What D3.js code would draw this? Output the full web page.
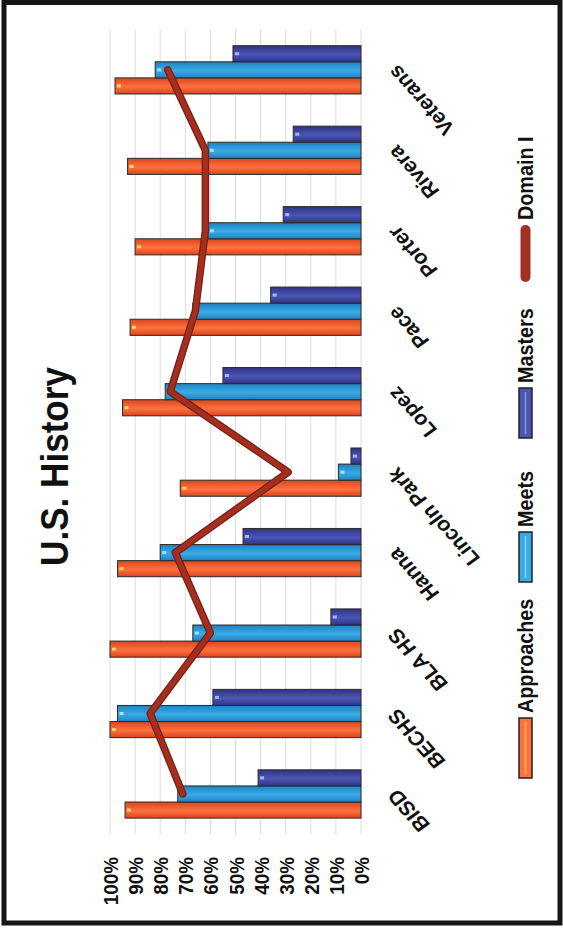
<!DOCTYPE html>
<html>
<head>
<meta charset="utf-8">
<script src="https://cdn.jsdelivr.net/npm/d3@7"></script>
<style>
  html, body { margin: 0; padding: 0; background: #ffffff; }
  svg { display: block; }
</style>
</head>
<body>
<div id="chart"></div>
<script>
// ---------------- data ----------------
const categories = ["BISD", "BECHS", "BLA HS", "Hanna", "Lincoln Park", "Lopez", "Pace", "Porter", "Rivera", "Veterans"];
const approaches = [94, 100, 100, 97, 72, 95, 92, 90, 93, 98];
const meets      = [73, 97, 67, 80, 9, 78, 67, 61, 61, 82];
const masters    = [41, 59, 12, 47, 4, 55, 36, 31, 27, 51];
const domainI    = [71, 84, 60, 74, 29, 76, 66, 62, 62, 77];
const seriesNames = ["Approaches", "Meets", "Masters"];
const lineName = "Domain I";
const tickValues = [0, 10, 20, 30, 40, 50, 60, 70, 80, 90, 100];
const tickLabels = ["0%", "10%", "20%", "30%", "40%", "50%", "60%", "70%", "80%", "90%", "100%"];
const chartTitle = "U.S. History";

// ---------------- layout ----------------
const SW = 563, SH = 932;          // screen size
const OW = 932, OH = 563;          // unrotated chart frame
const FONT = "'Liberation Sans', Arial, sans-serif";
const K = 0.9;                     // horizontal text compression of the scan

const svg = d3.select("#chart").append("svg")
  .attr("width", SW).attr("height", SH);

svg.append("rect").attr("width", SW).attr("height", SH).attr("fill", "#fff");

// chart drawn upright in OW x OH, then rotated -90deg onto the page
const g = svg.append("g").attr("transform", `translate(0,${SH}) rotate(-90)`);

const x = d3.scaleBand().domain(categories).range([97.8, 902.4]).padding(0);
const y = d3.scaleLinear().domain([0, 100]).range([361, 110]);
const bw = x.bandwidth() / 5;

const colors = {
  Approaches: { edge: "#d9471c", mid: "#ff7040", dot: "#ffd862" },
  Meets:      { edge: "#1f83c0", mid: "#3aaae6", dot: "#9fe6ff" },
  Masters:    { edge: "#2f3384", mid: "#4b56b3", dot: "#aab6ff" }
};

const defs = svg.append("defs");
seriesNames.forEach(name => {
  const gr = defs.append("linearGradient").attr("id", "grad-" + name)
    .attr("x1", "0").attr("x2", "1").attr("y1", "0").attr("y2", "0");
  gr.append("stop").attr("offset", "0%").attr("stop-color", colors[name].edge);
  gr.append("stop").attr("offset", "45%").attr("stop-color", colors[name].mid);
  gr.append("stop").attr("offset", "100%").attr("stop-color", colors[name].edge);
});

// gridlines
g.append("g").selectAll("line").data(tickValues).join("line")
  .attr("x1", x.range()[0]).attr("x2", x.range()[1])
  .attr("y1", d => y(d)).attr("y2", d => y(d))
  .attr("stroke", "#dcdcdc").attr("stroke-width", 1);

// value axis
const yAxis = d3.axisLeft(y).tickValues(tickValues)
  .tickFormat((d, i) => tickLabels[i]).tickSize(0).tickPadding(22.8);
const ya = g.append("g").attr("transform", `translate(${x.range()[0]},0)`).call(yAxis);
ya.select(".domain").remove();
ya.selectAll("text").each(function () {
  const t = d3.select(this);
  const tx = +t.attr("x");
  t.attr("x", 0).attr("dy", "0.36em")
    .attr("transform", `translate(${tx},0) scale(${K},1)`)
    .attr("font-family", FONT).attr("font-size", 21).attr("font-weight", "bold")
    .attr("fill", "#111");
});

// bars
const seriesData = [approaches, meets, masters];
seriesNames.forEach((name, si) => {
  const vals = seriesData[si];
  const sg = g.append("g");
  sg.selectAll("rect").data(categories).join("rect")
    .attr("x", c => x(c) + bw * (1 + si))
    .attr("width", bw)
    .attr("y", (c, i) => y(vals[i]))
    .attr("height", (c, i) => y(0) - y(vals[i]))
    .attr("fill", `url(#grad-${name})`)
    .attr("stroke", "#2a2a2a").attr("stroke-width", 1);
  sg.selectAll("rect.dot").data(categories).join("rect").attr("class", "dot")
    .attr("x", c => x(c) + bw * (1 + si) + bw / 2 - 1.5)
    .attr("width", 3)
    .attr("y", (c, i) => y(vals[i]) + 2)
    .attr("height", 4)
    .attr("fill", colors[name].dot);
});

// Domain I line
const line = d3.line()
  .x((d, i) => x(categories[i]) + x.bandwidth() / 2)
  .y(d => y(d));
g.append("path").datum(domainI)
  .attr("d", line).attr("fill", "none")
  .attr("stroke", "#7a1d16").attr("stroke-width", 7.5)
  .attr("stroke-linejoin", "round").attr("stroke-linecap", "round");
g.append("path").datum(domainI)
  .attr("d", line).attr("fill", "none")
  .attr("stroke", "#a3301f").attr("stroke-width", 5)
  .attr("stroke-linejoin", "round").attr("stroke-linecap", "round");

// category axis
const xAxis = d3.axisBottom(x).tickSize(0);
const xa = g.append("g").attr("transform", `translate(0,${y(0)})`).call(xAxis);
xa.select(".domain").remove();
xa.selectAll("text").each(function () {
  d3.select(this)
    .attr("x", 0).attr("y", 0).attr("dy", 0)
    .attr("text-anchor", "end")
    .attr("transform", `translate(6,37) scale(${K},1) rotate(-39)`)
    .attr("font-family", FONT).attr("font-size", 22).attr("font-weight", "bold")
    .attr("fill", "#111");
});

// title
g.append("text")
  .attr("transform", `translate(465.5,68) scale(${K},1)`)
  .attr("text-anchor", "middle")
  .attr("font-family", FONT).attr("font-size", 39).attr("font-weight", "bold")
  .attr("fill", "#111").text(chartTitle);

// legend
const legendItems = [
  { name: seriesNames[0], x0: 154, x1: 214, tx: 219 },
  { name: seriesNames[1], x0: 350, x1: 400, tx: 405 },
  { name: seriesNames[2], x0: 494, x1: 544, tx: 549 },
  { name: lineName,       x0: 650, x1: 707, tx: 712, isLine: true }
];
const lg = g.append("g");
legendItems.forEach(it => {
  if (it.isLine) {
    lg.append("line")
      .attr("x1", it.x0 + 5).attr("x2", it.x1 - 5)
      .attr("y1", 525.5).attr("y2", 525.5)
      .attr("stroke", "#a0301f").attr("stroke-width", 10)
      .attr("stroke-linecap", "round");
  } else {
    lg.append("rect")
      .attr("x", it.x0).attr("width", it.x1 - it.x0)
      .attr("y", 519).attr("height", 13)
      .attr("fill", colors[it.name].mid)
      .attr("stroke", "#222").attr("stroke-width", 1.5);
    lg.append("line")
      .attr("x1", it.x0 + 4).attr("x2", it.x1 - 4)
      .attr("y1", 525.5).attr("y2", 525.5)
      .attr("stroke", colors[it.name].dot).attr("stroke-width", 1.5)
      .attr("stroke-opacity", 0.7);
  }
  lg.append("text")
    .attr("transform", `translate(${it.tx},533) scale(${K},1)`)
    .attr("font-family", FONT).attr("font-size", 22).attr("font-weight", "bold")
    .attr("fill", "#111").text(it.name);
});

// scanned frame
svg.append("rect")
  .attr("x", 4).attr("y", 2.5).attr("width", 556).attr("height", 920.5)
  .attr("fill", "none").attr("stroke", "#151515").attr("stroke-width", 5);
</script>
</body>
</html>
